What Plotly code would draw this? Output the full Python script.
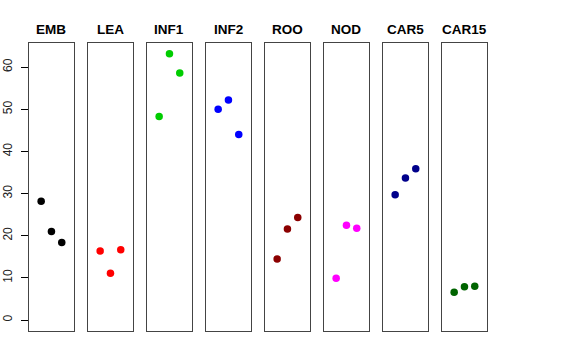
import plotly.graph_objects as go

groups = ["EMB", "LEA", "INF1", "INF2", "ROO", "NOD", "CAR5", "CAR15"]
colors = ["#000000", "#FF0000", "#00CD00", "#0000FF", "#8B0000", "#FF00FF", "#00008B", "#006400"]
reps = [1, 2, 3]
values = {
    "EMB": [28.2, 21.0, 18.4],
    "LEA": [16.4, 11.1, 16.7],
    "INF1": [48.3, 63.2, 58.6],
    "INF2": [50.0, 52.2, 44.0],
    "ROO": [14.5, 21.6, 24.3],
    "NOD": [9.9, 22.5, 21.8],
    "CAR5": [29.7, 33.7, 35.9],
    "CAR15": [6.6, 7.9, 8.0],
}
y_ticks = [0, 10, 20, 30, 40, 50, 60]

W, H = 576, 360
left0, pw, pitch = 29.2, 44.5, 59.0
top_px, bot_px = 43.0, 330.7
ymax = max(max(v) for v in values.values())
ymin = 0
ext = 0.04 * (ymax - ymin)

fig = go.Figure()
annotations = []
for i, g in enumerate(groups):
    ax = "" if i == 0 else str(i + 1)
    x0 = (left0 + i * pitch) / W
    x1 = (left0 + i * pitch + pw) / W
    fig.add_trace(go.Scatter(
        x=reps, y=values[g], mode="markers",
        marker=dict(color=colors[i], size=7.5, line=dict(width=0)),
        xaxis="x" + ax, yaxis="y" + ax, showlegend=False, hoverinfo="skip",
    ))
    fig.update_layout(**{
        "xaxis" + ax: dict(domain=[x0, x1], range=[-0.16, 4.16], showticklabels=False,
                           ticks="", showgrid=False, zeroline=False, showline=True,
                           mirror=True, linecolor="#444444", linewidth=1,
                           anchor="y" + ax, fixedrange=True),
        "yaxis" + ax: dict(domain=[1 - bot_px / H, 1 - top_px / H],
                           range=[ymin - ext, ymax + ext],
                           showgrid=False, zeroline=False, showline=True, mirror=True,
                           linecolor="#444444", linewidth=1, anchor="x" + ax,
                           fixedrange=True,
                           tickvals=y_ticks if i == 0 else [],
                           showticklabels=(i == 0),
                           ticks="outside" if i == 0 else "",
                           ticklen=7, tickcolor="#000000", tickwidth=1,
                           tickangle=-90,
                           tickfont=dict(family="Liberation Sans, Arial", size=12, color="#222222"),
                           ticklabelstandoff=4),
    })
    annotations.append(dict(
        text="<b>%s</b>" % g, x=(x0 + x1) / 2, y=1 - 29 / H, xref="paper", yref="paper",
        xanchor="center", yanchor="middle", showarrow=False,
        font=dict(family="Liberation Sans, Arial", size=13.5, color="#000000"),
    ))

fig.update_layout(width=W, height=H, margin=dict(l=0, r=0, t=0, b=0),
                  paper_bgcolor="white", plot_bgcolor="white",
                  annotations=annotations)
fig.write_html("out.html", config={"displayModeBar": False},
               post_script="document.body.style.margin='0';document.body.style.overflow='hidden';")
